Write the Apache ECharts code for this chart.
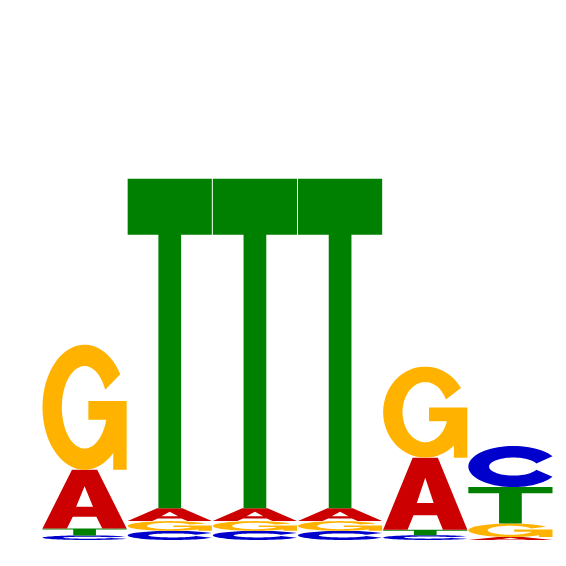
<!DOCTYPE html>
<html>
<head>
<meta charset="utf-8">
<script src="https://cdn.jsdelivr.net/npm/echarts@6/dist/echarts.min.js"></script>
<style>
    html, body { margin: 0; padding: 0; background: #fff; }
    #chart { width: 566px; height: 566px; }
</style>
</head>
<body>
<div id="chart"></div>
<script>
// 每个位置上各碱基的高度 (bits)
const positions = ['1', '2', '3', '4', '5', '6'];
const heightA = [0.217, 0.048, 0.048, 0.048, 0.267, 0.011];
const heightC = [0.017, 0.034, 0.034, 0.034, 0.018, 0.152];
const heightG = [0.463, 0.036, 0.036, 0.036, 0.337, 0.050];
const heightT = [0.026, 1.220, 1.220, 1.220, 0.020, 0.135];

(function () {
    let chart = echarts.init(document.querySelector("#chart"));

    const heights = { A: heightA, C: heightC, G: heightG, T: heightT };
    const colors = { A: "#CC0000", C: "#0000CC", G: "#FFB300", T: "#008000" };

    // 椭圆上的点 (角度按 y 向上计)
    function pt(a, rx, ry) {
        let r = a * Math.PI / 180;
        return (50 + rx * Math.cos(r)).toFixed(2) + ',' + (50 - ry * Math.sin(r)).toFixed(2);
    }
    function arc(from, to, rx, ry) {
        let out = [];
        let step = from < to ? 5 : -5;
        for (let a = from; step > 0 ? a < to : a > to; a += step) out.push(pt(a, rx, ry));
        out.push(pt(to, rx, ry));
        return out;
    }

    // 字母轮廓, 0..100 的方框, 用 cover 拉伸
    const glyphs = {
        A: 'M0,100 L35,0 L65,0 L100,100 L71,100 L64,80 L36,80 L29,100 Z M40,63 L60,63 L50,28 Z',
        T: 'M0,0 L100,0 L100,17 L63.5,17 L63.5,100 L36.5,100 L36.5,17 L0,17 Z',
        C: 'M' + arc(30, 330, 50, 50).join(' L') + ' L' + arc(340, 20, 27, 22).join(' L') + ' Z',
        G: 'M' + arc(32, 313, 50, 50).join(' L') +
           ' L84,100 L100,100 L100,45 L54.5,45 L54.5,60 L75.7,60 L' +
           arc(342.4, 25, 27, 33).join(' L') + ' Z'
    };

    let option = {
        animation: false,
        grid: {
            left: 42,
            right: 13,
            top: 0,
            bottom: 26
        },
        xAxis: {
            type: 'category',
            data: positions,
            show: false
        },
        yAxis: {
            type: 'value',
            min: 0,
            max: 2,
            show: false
        },
        series: [
            {
                type: 'custom',
                data: positions.map((p, i) => [i, heightA[i] + heightC[i] + heightG[i] + heightT[i]]),
                encode: { x: 0, y: 1 },
                renderItem: function (params, api) {
                    let i = api.value(0);
                    let bw = api.size([1, 0])[0];
                    let x0 = api.coord([i, 0])[0] - bw / 2;
                    // 小的在下面, 大的在上面
                    let stack = ['A', 'C', 'G', 'T']
                        .map(l => ({ l: l, h: heights[l][i] }))
                        .sort((a, b) => a.h - b.h);
                    let acc = 0;
                    let children = stack.map(s => {
                        let yBottom = api.coord([i, acc])[1];
                        acc += s.h;
                        let yTop = api.coord([i, acc])[1];
                        return {
                            type: 'path',
                            shape: {
                                pathData: glyphs[s.l],
                                x: x0 + 0.5,
                                y: yTop,
                                width: bw - 1,
                                height: yBottom - yTop,
                                layout: 'cover'
                            },
                            style: { fill: colors[s.l] }
                        };
                    });
                    return { type: 'group', children: children };
                }
            }
        ]
    };

    chart.setOption(option);
})();
</script>
</body>
</html>
